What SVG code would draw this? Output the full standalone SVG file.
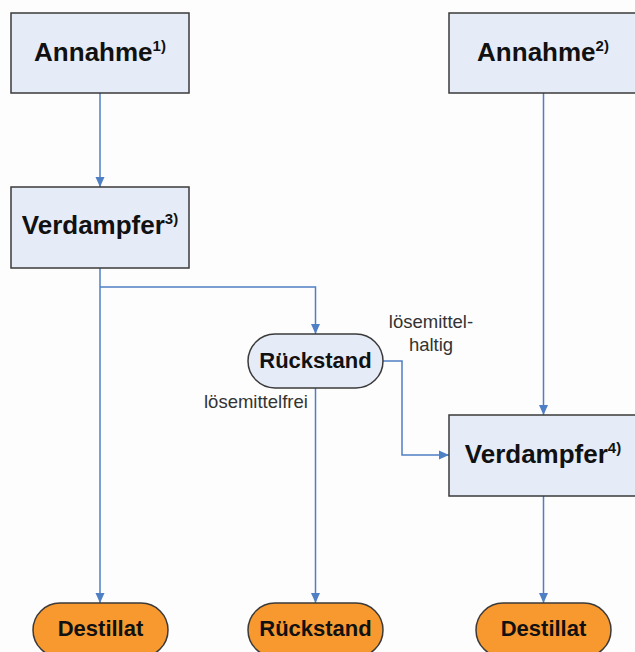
<svg xmlns="http://www.w3.org/2000/svg" width="635" height="652" viewBox="0 0 635 652">
<defs>
<style>
.box{fill:#e6ecf7;stroke:#3a3a3a;stroke-width:1.5}
.term{fill:#f7992f;stroke:#3a3a3a;stroke-width:1.5}
.mid{fill:#e6ecf7;stroke:#3a3a3a;stroke-width:1.5}
.big{font-family:"Liberation Sans",Arial,sans-serif;font-weight:bold;font-size:26px;fill:#111;text-anchor:middle}
.med{font-family:"Liberation Sans",Arial,sans-serif;font-weight:bold;font-size:22px;fill:#111;text-anchor:middle}
.sup{font-size:15px}
.lbl{font-family:"Liberation Sans",Arial,sans-serif;font-size:18.5px;fill:#333}
.con{fill:none;stroke:#4f7fc4;stroke-width:1.5}
</style>
<marker id="arr" viewBox="0 0 10 10" refX="10" refY="5" markerWidth="10" markerHeight="10" markerUnits="userSpaceOnUse" orient="auto">
<path d="M0,0.5 L10,5 L0,9.5 z" fill="#4f7fc4"/>
</marker>
</defs>
<rect width="635" height="652" fill="#fdfdfd"/>
<g id="connectors">
<path class="con" d="M100,93 V187" marker-end="url(#arr)"/>
<path class="con" d="M100,268 V603" marker-end="url(#arr)"/>
<path class="con" d="M100,287 H315.5 V334" marker-end="url(#arr)"/>
<path class="con" d="M543.5,93 V415" marker-end="url(#arr)"/>
<path class="con" d="M383,361 H402 V455 H449" marker-end="url(#arr)"/>
<path class="con" d="M315.5,388 V603" marker-end="url(#arr)"/>
<path class="con" d="M543.5,496 V603" marker-end="url(#arr)"/>
</g>
<g id="annahme1">
<rect class="box" x="11" y="13" width="178" height="80"/>
<text class="big" x="100" y="61">Annahme<tspan class="sup" dy="-10">1)</tspan></text>
</g>
<g id="annahme2">
<rect class="box" x="449" y="13" width="189" height="80"/>
<text class="big" x="543" y="61">Annahme<tspan class="sup" dy="-10">2)</tspan></text>
</g>
<g id="verdampfer3">
<rect class="box" x="11" y="187" width="178" height="81"/>
<text class="big" x="100" y="234">Verdampfer<tspan class="sup" dy="-10">3)</tspan></text>
</g>
<g id="rueckstand-mid">
<rect class="mid" x="248" y="334" width="135" height="54" rx="27" ry="27"/>
<text class="med" x="315.5" y="368">Rückstand</text>
</g>
<g id="verdampfer4">
<rect class="box" x="449" y="415" width="189" height="81"/>
<text class="big" x="543" y="463">Verdampfer<tspan class="sup" dy="-10">4)</tspan></text>
</g>
<g id="destillat1">
<rect class="term" x="33" y="603" width="135" height="54" rx="27" ry="27"/>
<text class="med" x="100.5" y="636">Destillat</text>
</g>
<g id="rueckstand2">
<rect class="term" x="248" y="603" width="135" height="54" rx="27" ry="27"/>
<text class="med" x="315.5" y="636">Rückstand</text>
</g>
<g id="destillat2">
<rect class="term" x="476" y="603" width="135" height="54" rx="27" ry="27"/>
<text class="med" x="543.5" y="636">Destillat</text>
</g>
<g id="labels">
<text class="lbl" x="431" y="328" text-anchor="middle">lösemittel-</text>
<text class="lbl" x="431" y="351" text-anchor="middle">haltig</text>
<text class="lbl" x="204" y="408">lösemittelfrei</text>
</g>
</svg>
